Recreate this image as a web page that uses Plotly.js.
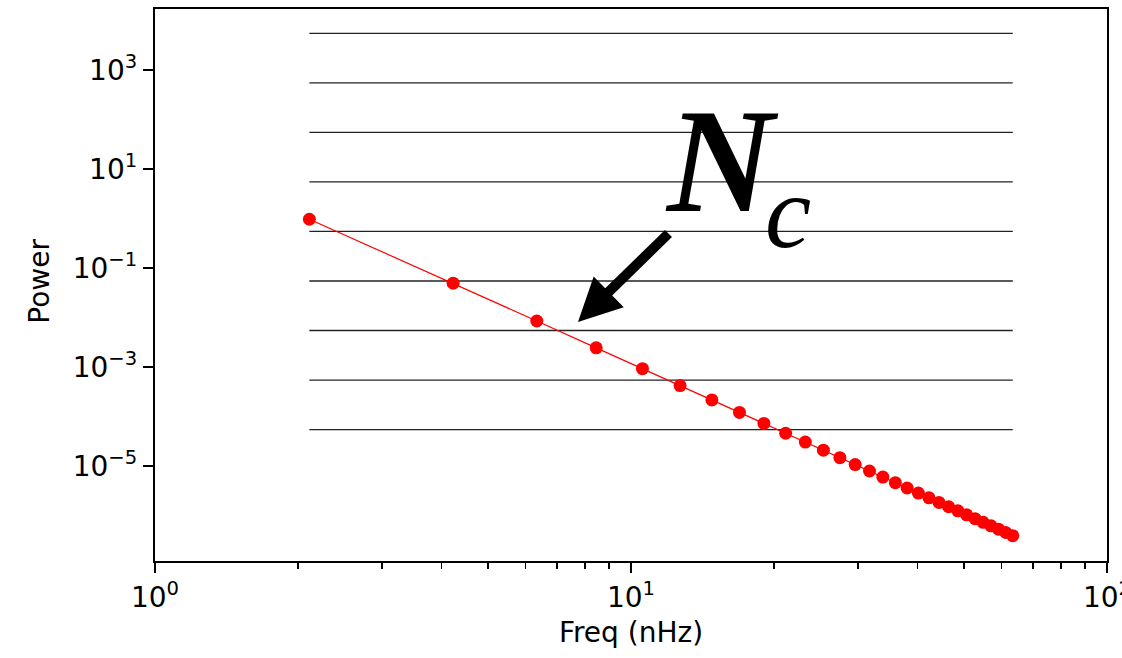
<!DOCTYPE html>
<html>
<head>
<meta charset="utf-8">
<script src="https://cdn.plot.ly/plotly-3.0.1.min.js"></script>
<style>html,body{margin:0;padding:0;background:#fff;}#chart{width:1122px;height:658px;}</style>
</head>
<body>
<div id="chart"></div>
<script>
// Frequencies (nHz) of the harmonics
const freqs = [2.11, 4.23, 6.34, 8.45, 10.57, 12.68, 14.79, 16.90, 19.02, 21.13,
               23.24, 25.36, 27.47, 29.58, 31.70, 33.81, 35.92, 38.03, 40.15, 42.26,
               44.37, 46.49, 48.60, 50.71, 52.83, 54.94, 57.05, 59.16, 61.28, 63.39];
// Power at each frequency
const power = [0.97, 0.0496, 0.00856, 0.00246, 9.35e-4, 4.25e-4, 2.18e-4, 1.22e-4, 7.33e-5, 4.64e-5,
               3.07e-5, 2.11e-5, 1.49e-5, 1.08e-5, 8.01e-6, 6.05e-6, 4.66e-6, 3.64e-6, 2.88e-6, 2.30e-6,
               1.86e-6, 1.52e-6, 1.26e-6, 1.045e-6, 8.76e-7, 7.39e-7, 6.27e-7, 5.36e-7, 4.60e-7, 3.97e-7];
// Horizontal reference levels
const hLevels = [5.5e3, 5.5e2, 55, 5.5, 0.55, 0.055, 0.0055, 5.5e-4, 5.5e-5];
// Tick labels
const yTickVals = [1e3, 1e1, 1e-1, 1e-3, 1e-5];
const yTickText = ['10<sup>3</sup>', '10<sup>1</sup>', '10<sup>−1</sup>', '10<sup>−3</sup>', '10<sup>−5</sup>'];
const xTickVals = [1, 10, 100];
const xTickText = ['10<sup>0</sup>', '10<sup>1</sup>', '10<sup>2</sup>'];

const fStart = freqs[0], fEnd = freqs[freqs.length - 1];
const traces = hLevels.map(v => ({
  x: [fStart, fEnd], y: [v, v], mode: 'lines', type: 'scatter',
  line: {color: '#222222', width: 1.3}, hoverinfo: 'skip', showlegend: false
}));
traces.push({
  x: freqs, y: power, mode: 'lines+markers', type: 'scatter',
  line: {color: '#ff0000', width: 1.2},
  marker: {color: '#ff0000', size: 13},
  showlegend: false
});

const font = {family: 'DejaVu Sans', size: 28, color: '#000'};
const layout = {
  width: 1122, height: 658,
  margin: {l: 155, r: 15, t: 9, b: 97},
  paper_bgcolor: '#fff', plot_bgcolor: '#fff',
  font: font,
  xaxis: {
    type: 'log', range: [0, 2],
    tickmode: 'array', tickvals: xTickVals, ticktext: xTickText,
    ticks: 'outside', ticklen: 10, tickwidth: 2, tickcolor: '#000',
    minor: {ticks: 'outside', ticklen: 5.5, tickwidth: 1.6, tickcolor: '#000', dtick: 'D1', showgrid: false},
    showline: true, linecolor: '#000', linewidth: 2.2, mirror: true,
    showgrid: false, zeroline: false,
    ticklabeloverflow: 'allow',
    tickfont: font,
    title: {text: 'Freq (nHz)', font: font, standoff: 10}
  },
  yaxis: {
    type: 'log', range: [-6.913, 4.232],
    tickmode: 'array', tickvals: yTickVals, ticktext: yTickText,
    ticks: 'outside', ticklen: 10, tickwidth: 2, tickcolor: '#000',
    showline: true, linecolor: '#000', linewidth: 2.2, mirror: true,
    showgrid: false, zeroline: false,
    tickfont: font
  },
  annotations: [
    {xref: 'paper', yref: 'paper', x: 0, y: 0.506, xanchor: 'center', yanchor: 'middle',
     xshift: -115, textangle: -90, text: 'Power', showarrow: false, font: font},
    {xref: 'paper', yref: 'paper', x: 0.5956, y: 0.7246, xanchor: 'center', yanchor: 'middle',
     text: '<b><i>N</i></b>', showarrow: false,
     font: {family: 'Liberation Serif', size: 148, color: '#000'}},
    {xref: 'paper', yref: 'paper', x: 0.6654, y: 0.634, xanchor: 'center', yanchor: 'middle',
     text: '<i>c</i>', showarrow: false,
     font: {family: 'Liberation Serif', size: 104, color: '#000'}},
    {xref: 'paper', yref: 'paper', x: 0.4443, y: 0.433, text: '',
     showarrow: true, ax: 92, ay: -90, arrowhead: 2, arrowsize: 0.86, arrowwidth: 10,
     arrowcolor: '#000', standoff: 0}
  ]
};

Plotly.newPlot('chart', traces, layout, {displayModeBar: false, staticPlot: true});
</script>
</body>
</html>
